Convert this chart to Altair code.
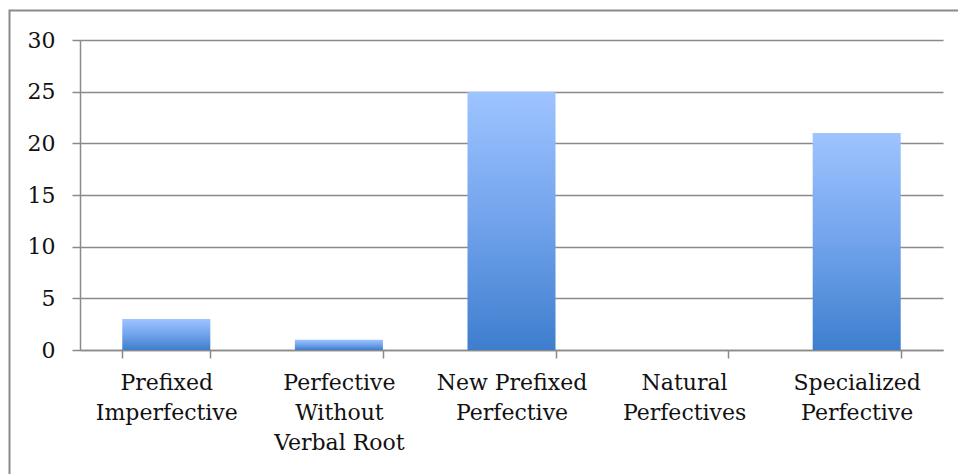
import altair as alt
import pandas as pd

# Verb categories ("|" marks where the axis label wraps) and their counts
categories = [
    "Prefixed|Imperfective",
    "Perfective|Without|Verbal Root",
    "New Prefixed|Perfective",
    "Natural|Perfectives",
    "Specialized|Perfective",
]
counts = [3, 1, 25, 0, 21]

df = pd.DataFrame({"category": categories, "count": counts})

FONT = "DejaVu Serif"
GRID = "#8a8a8a"
LINE_W = 1.5

bar_fill = alt.Gradient(
    gradient="linear",
    x1=0, y1=0, x2=0, y2=1,
    stops=[
        alt.GradientStop(offset=0, color="#9EC4FF"),
        alt.GradientStop(offset=0.5, color="#72A3EC"),
        alt.GradientStop(offset=1, color="#3E7ECE"),
    ],
)

x_enc = alt.X(
    "category:N",
    sort=categories,
    title=None,
    scale=alt.Scale(paddingInner=0.49, paddingOuter=0.245),
    axis=alt.Axis(
        labelAngle=0,
        labelExpr="split(datum.label, '|')",
        labelFont=FONT,
        labelFontSize=22,
        labelColor="#111111",
        labelLineHeight=30,
        labelBaseline="top",
        labelPadding=14,
        tickBand="extent",
        tickSize=8,
        tickColor=GRID,
        tickWidth=LINE_W,
        domainColor=GRID,
        domainWidth=LINE_W,
        grid=False,
    ),
)

y_enc = alt.Y(
    "count:Q",
    title=None,
    scale=alt.Scale(domain=[0, 30], nice=False),
    axis=alt.Axis(
        values=[0, 5, 10, 15, 20, 25, 30],
        labelFont=FONT,
        labelFontSize=22,
        labelColor="#111111",
        labelPadding=17,
        tickSize=8,
        tickColor=GRID,
        tickWidth=LINE_W,
        domainColor=GRID,
        domainWidth=LINE_W,
        gridColor=GRID,
        gridWidth=LINE_W,
        gridOpacity=1,
    ),
)

bars = alt.Chart(df).mark_bar(fill=bar_fill).encode(x=x_enc, y=y_enc)

# Thin frame around the whole figure
frame = alt.Chart(pd.DataFrame({"k": [0]})).mark_rect(
    fill=None, stroke=GRID, strokeWidth=2, clip=False
).encode(
    x=alt.value(-70.5), x2=alt.value(890),
    y=alt.value(-29.5), y2=alt.value(450),
)

chart = alt.layer(bars, frame).properties(
    width=863,
    height=310,
    autosize=alt.AutoSizeParams(type="none"),
    padding={"left": 80, "top": 40, "right": 15, "bottom": 124},
    background="#ffffff",
).configure_view(stroke=None)

chart.save("out.html", embed_options={"renderer": "svg", "actions": False})
